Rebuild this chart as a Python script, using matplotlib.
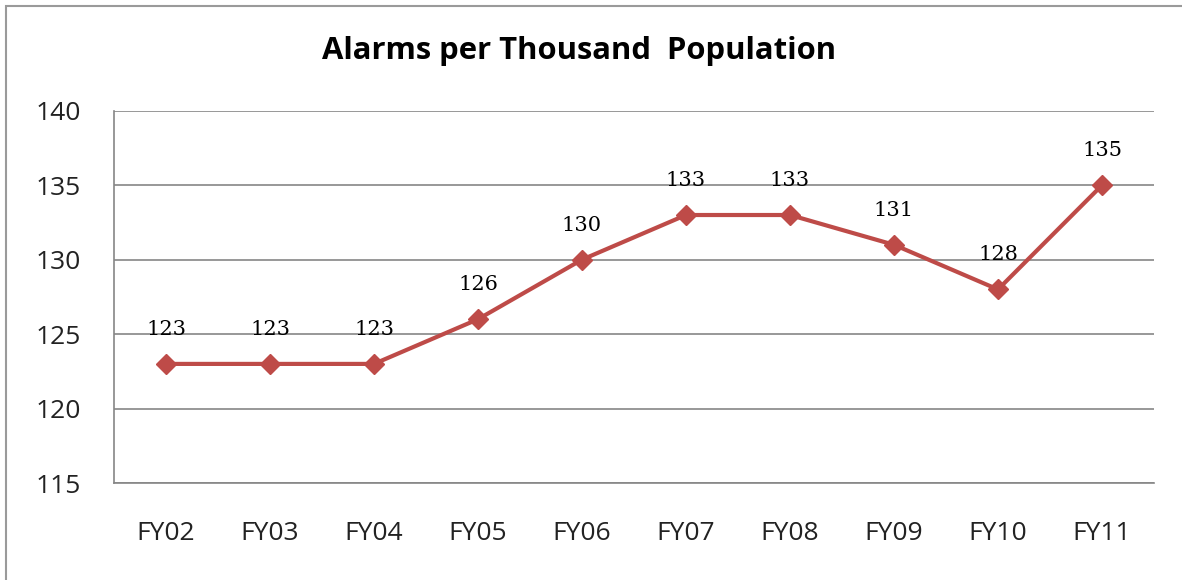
import matplotlib.pyplot as plt
from matplotlib.patches import Rectangle

# 数据
years = ['FY02', 'FY03', 'FY04', 'FY05', 'FY06', 'FY07', 'FY08', 'FY09', 'FY10', 'FY11']
alarms = [123, 123, 123, 126, 130, 133, 133, 131, 128, 135]
y_ticks = [115, 120, 125, 130, 135, 140]

line_color = '#BE4B48'
grid_color = '#868686'

fig = plt.figure(figsize=(11.82, 5.80), dpi=100)
ax = fig.add_axes([0.0964, 0.1672, 0.8799, 0.6418])

x = list(range(len(years)))
ax.plot(x, alarms, color=line_color, linewidth=3, marker='D', markersize=10.5, zorder=3)

for xi, v in zip(x, alarms):
    ax.annotate(str(v), (xi, v), xytext=(0, 21), textcoords='offset points',
                ha='center', va='baseline', fontsize=15, family='DejaVu Serif',
                color='black')

ax.set_xlim(-0.5, len(years) - 0.5)
ax.set_ylim(115, 140)
ax.set_yticks(y_ticks)
ax.set_xticks(x)
ax.set_xticklabels(years)
ax.yaxis.grid(True, color=grid_color, linewidth=1.2)
ax.set_axisbelow(True)

for s in ['top', 'right']:
    ax.spines[s].set_visible(False)
for s in ['left', 'bottom']:
    ax.spines[s].set_color(grid_color)
    ax.spines[s].set_linewidth(1.2)

ax.tick_params(axis='both', length=0, labelsize=19, colors='#222222')
ax.tick_params(axis='y', pad=24)
ax.tick_params(axis='x', pad=27)
for lbl in ax.get_xticklabels() + ax.get_yticklabels():
    lbl.set_family('Open Sans')

fig.text(0.49, 0.912, 'Alarms per Thousand  Population', ha='center', va='center',
         fontsize=22.3, fontweight='bold', family='Open Sans')

# 外框
fig.patches.append(Rectangle((6 / 1182, -0.1), 1.2, (574 / 580) + 0.1,
                             transform=fig.transFigure, fill=False,
                             edgecolor='#9a9a9a', linewidth=1.5))

fig.savefig('out.png', dpi=100)
